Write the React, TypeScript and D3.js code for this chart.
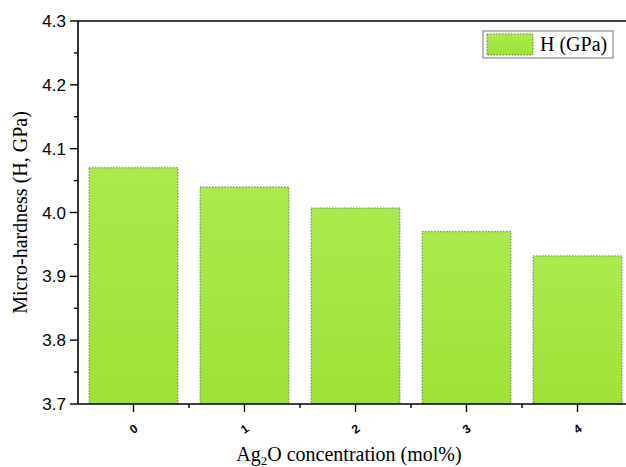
import React from "react";
import * as d3 from "d3";

// Ag2O content (mol%) and measured micro-hardness
const categories = ["0", "1", "2", "3", "4"];
const hardness = [4.07, 4.04, 4.007, 3.97, 3.932];
const yTicks = [3.7, 3.8, 3.9, 4.0, 4.1, 4.2, 4.3];
const yMinorTicks = [3.75, 3.85, 3.95, 4.05, 4.15, 4.25];
const seriesName = "H (GPa)";

const W = 626;
const H = 467;
const margin = { left: 78, top: 21, bottom: 404, right: 633 };

export default function App() {
  const x = d3
    .scaleBand<string>()
    .domain(categories)
    .range([margin.left, margin.right])
    .paddingInner(0.2)
    .paddingOuter(0.1);
  const step = x.step();
  const center = (c: string) => (x(c) as number) + x.bandwidth() / 2;
  const y = d3.scaleLinear().domain([3.7, 4.3]).range([margin.bottom, margin.top]);

  const sans = "'Liberation Sans', Arial, sans-serif";
  const serif = "'Liberation Serif', 'Times New Roman', serif";

  const xMinor = categories.slice(0, -1).map((c) => center(c) + step / 2);

  return (
    <svg
      width={W}
      height={H}
      style={{ position: "absolute", left: 0, top: 0, background: "#fff" }}
    >
      <defs>
        <linearGradient id="barFill" x1="0" y1="0" x2="0" y2="1">
          <stop offset="0%" stopColor="#aaea4e" />
          <stop offset="100%" stopColor="#9ee236" />
        </linearGradient>
      </defs>

      {/* bars */}
      {categories.map((c, i) => (
        <rect
          key={c}
          x={x(c)}
          y={y(hardness[i])}
          width={x.bandwidth()}
          height={y(3.7) - y(hardness[i])}
          fill="url(#barFill)"
          stroke="#6f6f6f"
          strokeWidth={1}
          strokeDasharray="1.5,1.5"
        />
      ))}

      {/* frame: top line and axes */}
      <line x1={margin.left} x2={margin.right} y1={margin.top} y2={margin.top} stroke="#000" strokeWidth={1.3} />
      <line x1={margin.left} x2={margin.right} y1={margin.bottom} y2={margin.bottom} stroke="#000" strokeWidth={1.6} />
      <line x1={margin.left} x2={margin.left} y1={margin.top} y2={margin.bottom} stroke="#000" strokeWidth={1.6} />

      {/* y ticks */}
      {yTicks.map((t) => (
        <g key={t}>
          <line x1={margin.left - 8} x2={margin.left} y1={y(t)} y2={y(t)} stroke="#000" strokeWidth={1.4} />
          <text
            x={margin.left - 12}
            y={y(t)}
            dy="0.36em"
            textAnchor="end"
            fontFamily={sans}
            fontSize={17}
            fill="#000"
          >
            {t.toFixed(1)}
          </text>
        </g>
      ))}
      {yMinorTicks.map((t) => (
        <line key={t} x1={margin.left - 4} x2={margin.left} y1={y(t)} y2={y(t)} stroke="#000" strokeWidth={1.4} />
      ))}

      {/* x ticks */}
      {categories.map((c) => (
        <g key={c}>
          <line x1={center(c)} x2={center(c)} y1={margin.bottom} y2={margin.bottom + 8} stroke="#000" strokeWidth={1.4} />
          <text
            transform={`translate(${center(c)},${margin.bottom + 25}) rotate(-35)`}
            textAnchor="middle"
            dy="0.35em"
            fontFamily={sans}
            fontWeight="bold"
            fontSize={12}
            fill="#000"
          >
            {c}
          </text>
        </g>
      ))}
      {xMinor.map((m) => (
        <line key={m} x1={m} x2={m} y1={margin.bottom} y2={margin.bottom + 4} stroke="#000" strokeWidth={1.4} />
      ))}

      {/* axis titles */}
      <text
        x={349}
        y={461}
        textAnchor="middle"
        fontFamily={serif}
        fontSize={20}
        fill="#000"
      >
        Ag
        <tspan fontSize={13} dy={4}>2</tspan>
        <tspan dy={-4}>O concentration (mol%)</tspan>
      </text>
      <text
        transform={`translate(27,${(margin.top + margin.bottom) / 2}) rotate(-90)`}
        textAnchor="middle"
        fontFamily={serif}
        fontSize={20}
        fill="#000"
      >
        Micro-hardness (H, GPa)
      </text>

      {/* legend */}
      <rect x={483} y={31} width={130} height={27} fill="#fff" stroke="#777" strokeWidth={1} />
      <rect
        x={487}
        y={34}
        width={46}
        height={21}
        fill="url(#barFill)"
        stroke="#6f6f6f"
        strokeWidth={1}
        strokeDasharray="1.5,1.5"
      />
      <text x={540} y={51} fontFamily={serif} fontSize={20} fill="#000">
        {seriesName}
      </text>
    </svg>
  );
}
